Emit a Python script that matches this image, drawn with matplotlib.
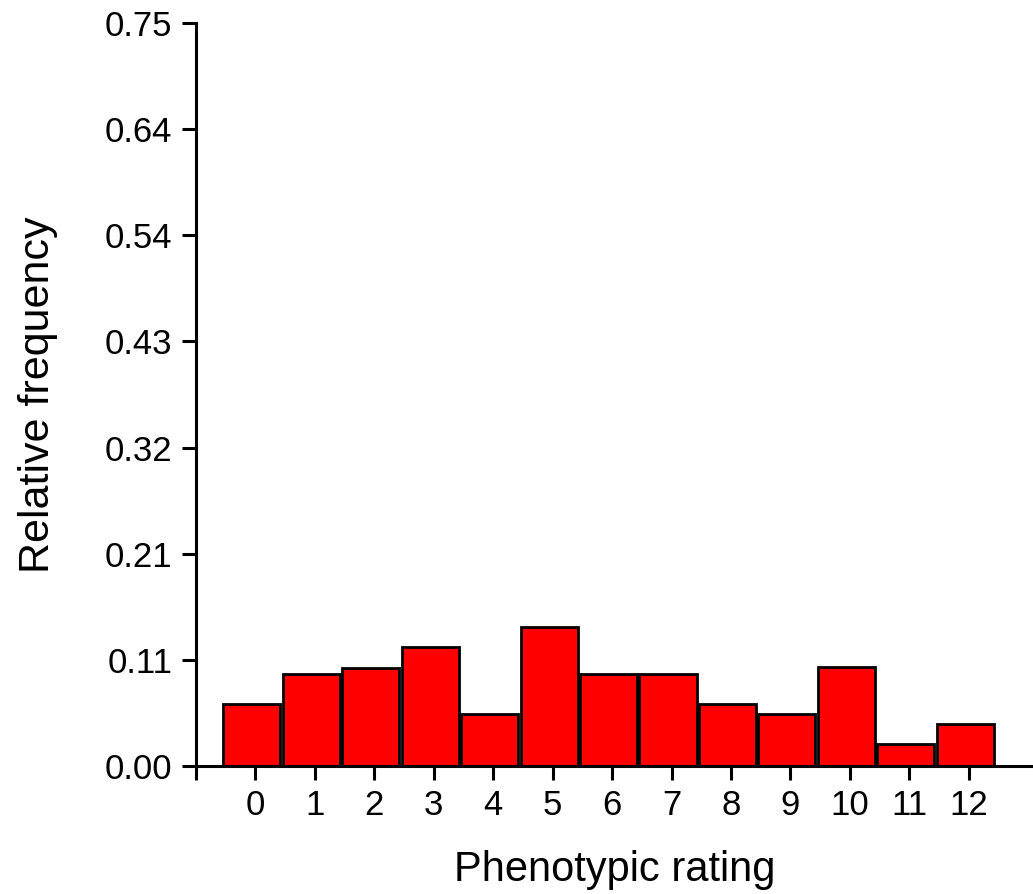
import matplotlib
matplotlib.use("Agg")
import matplotlib.pyplot as plt

plt.rcParams['font.family'] = ['Liberation Sans', 'DejaVu Sans']

# phenotypic rating classes and their relative frequencies
ratings = list(range(13))
freq = [0.062, 0.093, 0.099, 0.120, 0.052, 0.140, 0.093, 0.093, 0.062, 0.052, 0.100, 0.022, 0.042]

y_ticks = [i * 0.75 / 7 for i in range(8)]
y_labels = ["0.00", "0.11", "0.21", "0.32", "0.43", "0.54", "0.64", "0.75"]
x_ticks = list(range(-1, 13))
x_labels = [""] + [str(r) for r in ratings]

fig = plt.figure(figsize=(10.33, 8.94), dpi=100)
ax = fig.add_axes([0.1897, 0.1435, 0.8103, 0.8304])

# bars sit slightly left of their tick in the original
ax.bar([r - 0.06 for r in ratings], freq, width=0.96, color='#ff0000',
       edgecolor='black', linewidth=2.0)

ax.set_xlim(-1, 13.08)
ax.set_ylim(0, 0.75)
ax.set_yticks(y_ticks)
ax.set_yticklabels(y_labels)
ax.set_xticks(x_ticks)
ax.set_xticklabels(x_labels)

for side in ['top', 'right']:
    ax.spines[side].set_visible(False)
for side in ['left', 'bottom']:
    ax.spines[side].set_linewidth(2.2)

ax.tick_params(axis='both', length=10, width=2.2, labelsize=25, pad=7, color='black')

ax.set_xlabel("Phenotypic rating", fontsize=30, labelpad=20)
ax.set_ylabel("Relative frequency", fontsize=31, labelpad=34)

fig.savefig("out.png", dpi=100)
